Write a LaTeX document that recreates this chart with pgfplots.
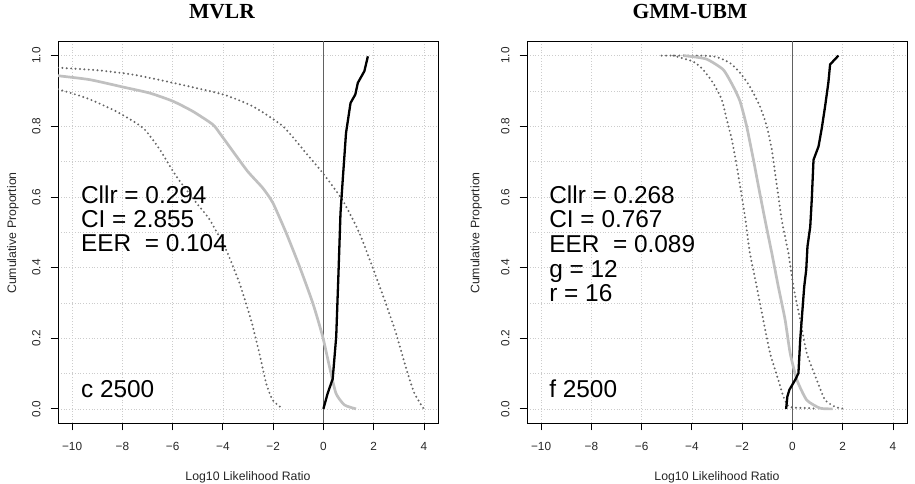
\documentclass[border=0pt]{standalone}
\usepackage{pgfplots}
\pgfplotsset{compat=1.18}
\usepackage{pgfplotstable}
\usepackage{fontspec}
\setmainfont{Liberation Sans}
\newfontfamily\titlefont{Liberation Serif}

% ---------- MVLR ----------
\pgfplotstableread{
x y
-10.56 0.943
-9.30 0.932
-7.97 0.911
-6.91 0.894
-5.99 0.871
-5.19 0.842
-4.40 0.805
-4.13 0.781
-3.60 0.729
-3.01 0.672
-2.41 0.625
-2.01 0.583
-1.48 0.498
-0.95 0.403
-0.42 0.299
-0.03 0.205
0.24 0.120
0.50 0.044
0.84 0.011
1.30 0.000
}\mvlrDS
\pgfplotstableread{
x y
0.00 0.000
0.17 0.044
0.37 0.085
0.51 0.205
0.60 0.384
0.68 0.554
0.77 0.649
0.90 0.781
1.08 0.866
1.27 0.890
1.37 0.923
1.63 0.956
1.77 0.998
}\mvlrSS
\pgfplotstableread{
x y
-10.56 0.966
-8.90 0.958
-7.56 0.946
-5.98 0.923
-3.99 0.890
-2.80 0.856
-1.61 0.800
-0.69 0.724
-0.03 0.668
0.77 0.590
1.43 0.498
1.96 0.400
2.43 0.309
2.89 0.214
3.29 0.115
3.62 0.044
3.95 0.005
4.00 0.000
}\mvlrHi
\pgfplotstableread{
x y
-10.56 0.905
-9.43 0.880
-8.24 0.842
-7.17 0.795
-6.51 0.734
-5.85 0.658
-5.05 0.583
-4.52 0.535
-3.87 0.450
-3.34 0.356
-2.88 0.252
-2.55 0.158
-2.28 0.073
-2.02 0.025
-1.62 0.000
}\mvlrLo

% ---------- GMM-UBM ----------
\pgfplotstableread{
x y
-4.34 1.000
-4.08 0.998
-3.41 0.990
-2.75 0.960
-2.35 0.912
-2.08 0.870
-1.82 0.800
-1.55 0.705
-1.35 0.630
-1.09 0.535
-0.82 0.441
-0.56 0.346
-0.29 0.252
-0.09 0.158
0.18 0.082
0.57 0.025
1.10 0.002
1.60 0.000
}\gmmDS
\pgfplotstableread{
x y
-0.25 0.000
-0.20 0.035
-0.12 0.054
0.11 0.082
0.24 0.101
0.31 0.195
0.37 0.252
0.47 0.346
0.55 0.394
0.60 0.460
0.71 0.516
0.77 0.592
0.84 0.705
1.04 0.743
1.17 0.795
1.30 0.856
1.43 0.923
1.50 0.975
1.83 1.000
}\gmmSS
\pgfplotstableread{
x y
-5.20 1.000
-3.61 1.000
-3.01 0.996
-2.48 0.979
-2.08 0.951
-1.69 0.912
-1.29 0.856
-1.02 0.800
-0.82 0.734
-0.69 0.668
-0.56 0.602
-0.40 0.525
-0.16 0.441
0.04 0.346
0.31 0.252
0.57 0.158
0.97 0.082
1.30 0.025
1.76 0.004
2.16 0.000
}\gmmHi
\pgfplotstableread{
x y
-4.74 1.000
-3.94 0.983
-3.55 0.960
-3.15 0.922
-2.81 0.875
-2.61 0.818
-2.41 0.762
-2.21 0.686
-2.08 0.630
-1.95 0.573
-1.85 0.525
-1.69 0.441
-1.42 0.346
-1.16 0.252
-0.89 0.158
-0.56 0.082
-0.36 0.035
-0.16 0.007
0.18 0.003
0.71 0.002
1.00 0.000
}\gmmLo

\pgfplotsset{
  tippett/.style={
    scale only axis, width=380pt, height=381.5pt,
    xmin=-10.56, xmax=4.56, ymin=-0.04, ymax=1.04,
    xtick={-10,-8,-6,-4,-2,0,2,4},
    ytick={0,0.2,0.4,0.6,0.8,1.0},
    minor ytick={0.1,0.3,0.5,0.7,0.9},
    xticklabels={}, yticklabels={},
    grid=both,
    major grid style={gray!40, line width=0.7pt, dash pattern=on 1pt off 1.8pt},
    minor grid style={gray!40, line width=0.7pt, dash pattern=on 1pt off 1.8pt},
    tick align=outside, xtick pos=bottom, ytick pos=left,
    major tick length=7.5pt, minor tick length=0pt,
    tick style={black, line width=0.8pt},
    axis line style={line width=0.9pt},
  },
  dsline/.style={no marks, smooth, tension=0.35, color={rgb,255:red,192;green,192;blue,192}, line width=2.7pt},
  ssline/.style={no marks, black, line width=2.3pt, line join=round},
  dotline/.style={no marks, smooth, tension=0.35, color=black!60, line width=2.2pt, line cap=round, dash pattern=on 0pt off 4.4pt},
  zeroline/.style={no marks, color=black!62, line width=1.2pt},
}

\newcommand{\stat}[3]{\node[anchor=base west, inner sep=0pt,
  font=\fontsize{24.4}{28}\selectfont] at (axis cs:#1,#2) {#3};}

% tick labels of one panel; #1 = left edge of its axis box
\newcommand{\panelticks}[1]{%
  \foreach \v/\t in {-10/−10,-8/−8,-6/−6,-4/−4,-2/−2,0/0,2/2,4/4}
    \node[anchor=north, inner sep=0pt, font=\fontsize{11.8}{13}\selectfont, text=black!85]
      at ({#1+(\v+10.56)*380/15.12},42.3) {\t};
  \foreach \v/\t in {0/0.0,0.2/0.2,0.4/0.4,0.6/0.6,0.8/0.8,1/1.0}
    \node[anchor=south, rotate=90, inner sep=0pt, font=\fontsize{11.8}{13}\selectfont, text=black!85]
      at ({#1-17.3},{61+(\v+0.04)*381.5/1.08}) {\t};
}

\begin{document}
\begin{tikzpicture}[x=1pt,y=1pt]
\path[use as bounding box] (0,0) rectangle (915,484);

\begin{axis}[tippett, at={(58pt,61pt)}, anchor=south west]
  \addplot[zeroline] coordinates {(0,-0.04) (0,1.04)};
  \addplot[dotline] table {\mvlrHi};
  \addplot[dotline] table {\mvlrLo};
  \addplot[dsline] table {\mvlrDS};
  \addplot[ssline] table {\mvlrSS};
  \stat{-9.65}{0.581}{Cllr = 0.294}
  \stat{-9.65}{0.513}{CI = 2.855}
  \stat{-9.65}{0.445}{EER~~= 0.104}
  \stat{-9.65}{0.031}{c 2500}
\end{axis}

\begin{axis}[tippett, at={(527pt,61pt)}, anchor=south west]
  \addplot[zeroline] coordinates {(0,-0.04) (0,1.04)};
  \addplot[dotline] table {\gmmHi};
  \addplot[dotline] table {\gmmLo};
  \addplot[dsline] table {\gmmDS};
  \addplot[ssline] table {\gmmSS};
  \stat{-9.68}{0.581}{Cllr = 0.268}
  \stat{-9.68}{0.514}{CI = 0.767}
  \stat{-9.68}{0.444}{EER~~= 0.089}
  \stat{-9.68}{0.373}{g = 12}
  \stat{-9.68}{0.304}{r = 16}
  \stat{-9.68}{0.032}{f 2500}
\end{axis}

\panelticks{58}
\panelticks{527}

% titles
\node[anchor=base, inner sep=0pt, font=\titlefont\bfseries\fontsize{21.5}{24}\selectfont] at (222,465.7) {MVLR};
\node[anchor=base, inner sep=0pt, font=\titlefont\bfseries\fontsize{21.5}{24}\selectfont] at (690,465.7) {GMM-UBM};

% axis labels
\node[anchor=base, inner sep=0pt, font=\fontsize{12.3}{14}\selectfont, text=black!85] at (248,3.3) {Log10 Likelihood Ratio};
\node[anchor=base, inner sep=0pt, font=\fontsize{12.3}{14}\selectfont, text=black!85] at (717,3.3) {Log10 Likelihood Ratio};
\node[anchor=base, inner sep=0pt, rotate=90, font=\fontsize{12.3}{14}\selectfont, text=black!85] at (16.1,251) {Cumulative Proportion};
\node[anchor=base, inner sep=0pt, rotate=90, font=\fontsize{12.3}{14}\selectfont, text=black!85] at (479.4,251) {Cumulative Proportion};
\end{tikzpicture}
\end{document}
